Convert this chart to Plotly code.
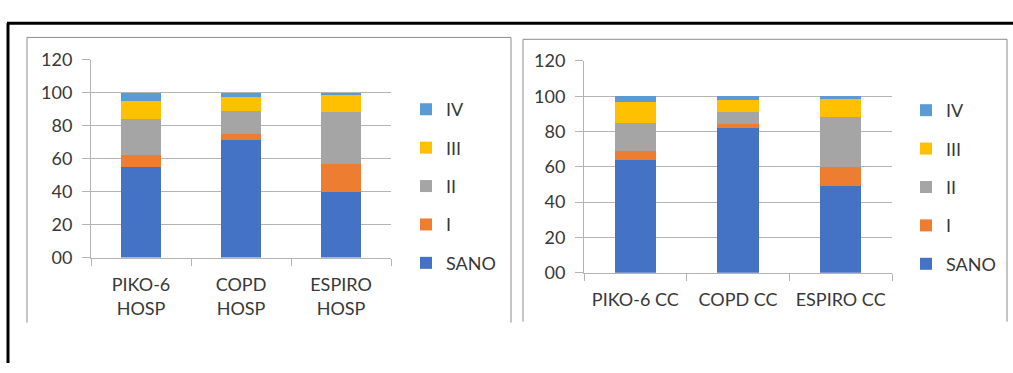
import plotly.graph_objects as go

# data (percent)
series = ['SANO', 'I', 'II', 'III', 'IV']
colors = ['#4472C4', '#ED7D31', '#A5A5A5', '#FFC000', '#5B9BD5']

hosp_cats = ['PIKO-6<br>HOSP', 'COPD<br>HOSP', 'ESPIRO<br>HOSP']
hosp_sano = [55, 71, 40]
hosp_i = [7, 4, 17]
hosp_ii = [22, 14, 31]
hosp_iii = [11, 8, 11]
hosp_iv = [5, 3, 1]

cc_cats = ['PIKO-6 CC', 'COPD CC', 'ESPIRO CC']
cc_sano = [64, 82, 49]
cc_i = [5, 2, 11]
cc_ii = [16, 7, 28]
cc_iii = [12, 7, 11]
cc_iv = [3, 2, 1]

W, H = 1013, 373
txt = '#383838'
grid = '#b4b4b4'
font = 'Lato'
fs = 18

fig = go.Figure()

hosp = [hosp_sano, hosp_i, hosp_ii, hosp_iii, hosp_iv]
cc = [cc_sano, cc_i, cc_ii, cc_iii, cc_iv]
for k, (name, col, vals) in enumerate(zip(series, colors, hosp)):
    fig.add_trace(go.Bar(x=hosp_cats, y=vals, name=name, marker_color=col,
                         marker_line_width=0, xaxis='x', yaxis='y',
                         legend='legend', legendgroup='a' + name, legendrank=10 - k))
for k, (name, col, vals) in enumerate(zip(series, colors, cc)):
    fig.add_trace(go.Bar(x=cc_cats, y=vals, name=name, marker_color=col,
                         marker_line_width=0, xaxis='x2', yaxis='y2',
                         legend='legend2', legendgroup='b' + name, legendrank=10 - k))

def px(x):
    return x / W

def py(y):
    return 1 - y / H

xax = dict(showline=True, linecolor=grid, linewidth=1, ticks='outside',
           tickson='boundaries', ticklen=7, tickcolor=grid, showgrid=False,
           ticklabelstandoff=11,
           tickfont=dict(family=font, size=fs, color=txt), fixedrange=True)
yax = dict(range=[0, 120], dtick=20, tickformat='02d', showgrid=True,
           gridcolor=grid, gridwidth=1, zeroline=False, showline=True,
           linecolor=grid, ticks='outside', ticklen=8, tickcolor=grid,
           ticklabelstandoff=6,
           tickfont=dict(family=font, size=fs, color=txt), fixedrange=True)

leg = dict(font=dict(family=font, size=fs, color=txt), traceorder='grouped',
           tracegroupgap=12, bgcolor='rgba(0,0,0,0)', xanchor='left', yanchor='top')

fig.update_layout(
    width=W, height=H, margin=dict(l=0, r=0, t=0, b=0),
    paper_bgcolor='white', plot_bgcolor='white',
    barmode='stack', bargap=0.6,
    xaxis=dict(xax, domain=[px(91), px(391)], anchor='y'),
    yaxis=dict(yax, domain=[py(261), py(50.5)], anchor='x'),
    xaxis2=dict(xax, domain=[px(584), px(892)], anchor='y2'),
    yaxis2=dict(yax, domain=[py(277), py(52)], anchor='x2'),
    legend=dict(leg, x=px(406), y=py(84)),
    legend2=dict(leg, x=px(906), y=py(85)),
    shapes=[
        # outer black frame
        dict(type='line', xref='paper', yref='paper', x0=px(7), x1=px(1013), y0=py(12), y1=py(12),
             line=dict(color='black', width=3)),
        dict(type='line', xref='paper', yref='paper', x0=px(8), x1=px(8), y0=py(12), y1=py(373),
             line=dict(color='black', width=3)),
        # chart boxes
        dict(type='path', xref='paper', yref='paper',
             path=f'M{px(27)},{py(330)} L{px(27)},{py(27)} L{px(511)},{py(27)} L{px(511)},{py(330)}',
             line=dict(color='#8c8c8c', width=1)),
        dict(type='path', xref='paper', yref='paper',
             path=f'M{px(523)},{py(329)} L{px(523)},{py(29)} L{px(1007)},{py(29)} L{px(1007)},{py(329)}',
             line=dict(color='#8c8c8c', width=1)),
    ],
)

# pin the figure to the page corner (no default body margin)
pin = ("document.body.style.margin='0';"
       "var d=document.getElementById('{plot_id}');"
       "d.style.position='absolute';d.style.top='0px';d.style.left='0px';")
fig.write_html('out.html', config={'displayModeBar': False}, post_script=pin)
